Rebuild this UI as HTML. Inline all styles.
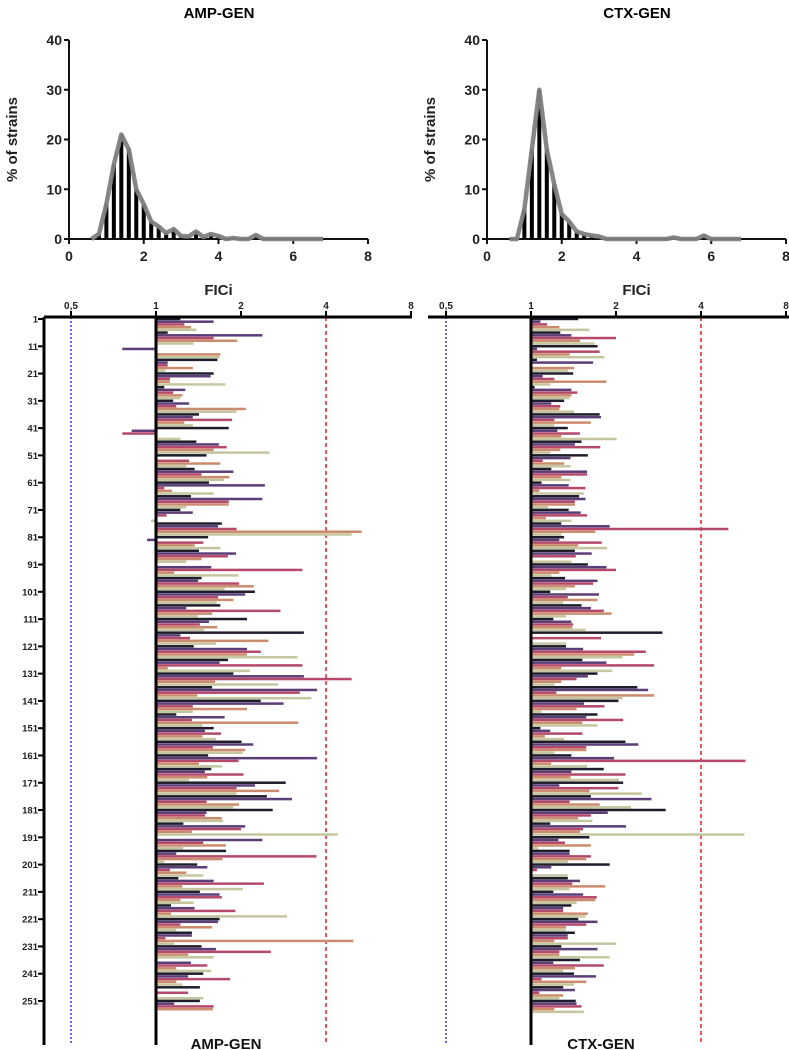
<!DOCTYPE html>
<html><head><meta charset="utf-8">
<style>
html,body{margin:0;padding:0;background:#fff;}
svg{display:block;font-family:"Liberation Sans",Arial,sans-serif;}
</style></head>
<body>
<svg id="chart" width="789" height="1050" viewBox="0 0 789 1050" xmlns="http://www.w3.org/2000/svg"></svg>
<script>
// ---- Histogram data ----
const histBins = [0.6,0.8,1.0,1.2,1.4,1.6,1.8,2.0,2.2,2.4,2.6,2.8,3.0,3.2,3.4,3.6,3.8,4.0,4.2,4.4,4.6,4.8,5.0,5.2,5.4,5.6,5.8,6.0,6.2,6.4,6.6,6.8];
const ampHist = [0,1,7,15,21,18,10,7,3.5,2.5,1.2,2,0.6,0.5,1.5,0.4,1,0.6,0,0.2,0,0,0.8,0,0,0,0,0,0,0,0,0];
const ctxHist = [0,0,6,18,30,18,11,5,3.5,1.5,1,0.7,0.5,0,0,0,0,0,0,0,0,0,0.3,0,0,0,0.7,0,0,0,0,0];
const histYTicks = [0,10,20,30,40];
const histXTicks = [0,2,4,6,8];

// ---- Per-strain FICi data ----
const ampValues = [1.22,1.6,1.26,1.33,1.39,1.1,2.38,1.6,1.94,1.36,1.0,0.76,1.0,1.69,1.68,1.65,1.1,1.1,1.35,1.08,
1.6,1.56,1.12,1.12,1.76,1.07,1.27,1.15,1.24,1.22,1.15,1.31,1.18,2.08,1.93,1.42,1.35,1.86,1.26,1.35,
1.81,0.82,0.76,1.0,1.22,1.39,1.67,1.78,1.6,2.52,1.51,1.0,1.31,1.69,1.28,1.37,1.88,1.45,1.82,1.74,
1.54,2.43,1.07,1.14,1.6,1.33,2.38,1.81,1.81,1.28,1.22,1.35,1.09,1.0,0.96,1.71,1.66,1.93,5.35,4.93,
1.53,0.93,1.47,1.37,1.69,1.42,1.92,1.8,1.45,1.28,1.0,1.57,3.3,1.16,1.96,1.45,1.41,1.97,2.22,1.75,
2.24,2.07,1.66,1.88,1.64,1.69,1.28,2.76,1.58,1.41,2.1,1.54,1.43,1.65,1.48,3.34,1.22,1.32,2.5,1.63,
1.36,2.1,2.35,2.1,3.17,1.8,1.68,3.3,1.1,2.15,1.88,3.34,4.93,1.62,2.71,1.58,3.72,3.23,1.4,3.55,
2.35,2.83,1.35,2.1,1.35,1.18,1.75,1.34,3.19,1.46,1.6,1.49,1.7,1.46,1.63,2.01,2.21,1.59,2.07,2.03,
1.53,3.72,1.96,1.42,1.71,1.57,1.49,2.04,1.52,1.31,2.88,2.24,1.93,2.73,1.93,2.47,3.03,1.51,1.97,1.88,
2.59,1.51,1.49,1.71,1.73,1.25,2.07,2.0,1.34,4.4,1.0,2.38,1.47,1.77,1.25,1.77,1.18,3.7,1.72,1.07,
1.4,1.52,1.12,1.28,1.47,1.2,1.6,2.41,1.24,2.03,1.43,1.68,1.71,1.22,1.36,1.13,1.37,1.91,1.13,2.91,
1.68,1.66,1.22,1.58,1.18,1.34,1.34,1.08,5.0,1.16,1.45,1.63,2.55,1.3,1.6,1.0,1.33,1.52,1.18,1.57,
1.47,1.3,1.83,1.18,1.24,1.43,1.0,1.3,1.0,1.47,1.43,1.16,1.6,1.59];
const ctxValues = [1.47,1.08,1.14,1.26,1.61,1.27,1.39,2.0,1.49,1.68,1.72,1.05,1.75,1.37,1.82,1.05,1.66,1.0,1.42,1.35,
1.41,1.1,1.21,1.85,1.17,1.03,1.39,1.46,1.39,1.37,1.31,1.18,1.27,1.26,1.42,1.75,1.77,1.21,1.63,1.21,
1.35,1.24,1.49,1.28,2.01,1.51,1.43,1.76,1.27,1.17,1.59,1.38,1.1,1.31,1.38,1.18,1.58,1.58,1.28,1.38,
1.09,1.36,1.56,1.07,1.54,1.48,1.56,1.43,1.43,1.15,1.36,1.5,1.58,1.13,1.39,1.28,1.9,5.0,1.69,1.28,
1.31,1.26,1.78,1.47,1.86,1.43,1.64,1.44,1.0,1.39,1.59,1.85,2.0,1.26,1.18,1.32,1.72,1.66,1.43,1.33,
1.17,1.74,1.35,1.72,1.3,1.51,1.63,1.81,1.93,1.33,1.2,1.39,1.41,1.4,1.56,2.92,1.0,1.77,1.0,1.33,
1.33,1.53,2.55,2.32,2.11,1.52,1.85,2.73,1.28,1.94,1.72,1.59,1.45,1.28,1.21,2.38,2.6,1.23,2.73,2.11,
2.04,1.54,1.82,1.45,1.09,1.72,1.57,2.12,1.52,1.72,1.08,1.17,1.52,1.12,1.31,2.16,2.4,1.57,1.57,1.21,
1.39,1.97,5.75,1.18,1.58,1.81,1.39,2.16,1.38,2.05,2.12,1.26,2.04,1.61,2.47,1.63,2.67,1.37,1.75,2.26,
3.0,1.87,1.63,1.47,1.65,1.17,2.17,1.53,1.49,5.7,1.61,1.25,1.32,1.63,1.06,1.37,1.37,1.63,1.57,1.35,
1.9,1.18,1.05,1.0,1.35,1.35,1.49,1.4,1.83,1.37,1.2,1.53,1.71,1.69,1.45,1.39,1.3,1.3,1.59,1.56,
1.47,1.72,1.57,1.33,1.33,1.43,1.35,1.35,1.21,2.0,1.28,1.72,1.26,1.26,1.9,1.49,1.2,1.81,1.43,1.3,
1.42,1.7,1.09,1.57,1.42,1.3,1.43,1.07,1.3,1.26,1.44,1.45,1.51,1.21,1.54];
const logTicks = [0.5,1,2,4,8];
const logTickLabels = ["0,5","1","2","4","8"];
const rowTicks = [1,11,21,31,41,51,61,71,81,91,101,111,121,131,141,151,161,171,181,191,201,211,221,231,241,251];

const NS = "http://www.w3.org/2000/svg";
const svg = document.getElementById('chart');
function mk(tag, attrs, parent){
  const e = document.createElementNS(NS, tag);
  for (const k in attrs) e.setAttribute(k, attrs[k]);
  (parent||svg).appendChild(e);
  return e;
}
const palette = ["#1f1d2c","#5b3d78","#b5496a","#cc8b6c","#c5c6a0"];

// ---- Histograms ----
function histogram(x0, title, data, name){
  const g = mk('g', {});
  
  
  const px = v => x0 + v * (299/8);
  const py = v => 239 - v * (199/40);
  const t = mk('text', {x: x0+150, y: 18, 'text-anchor':'middle', 'font-size':15, 'font-weight':'bold'}, g);
  t.textContent = title;
  
  
  const ya = mk('line', {x1:x0, y1:py(40), x2:x0, y2:py(0), stroke:'#111', 'stroke-width':2}, g);
  
  
  const xa = mk('line', {x1:x0, y1:py(0), x2:px(8), y2:py(0), stroke:'#111', 'stroke-width':2}, g);
  
  
  histYTicks.forEach(v => {
    mk('line', {x1:x0-5, x2:x0, y1:py(v), y2:py(v), stroke:'#111', 'stroke-width':2}, g);
    const l = mk('text', {x:x0-7, y:py(v)+5, 'text-anchor':'end', 'font-size':14, 'font-weight':'bold', fill:'#222'}, g);
    l.textContent = v;
    
    
  });
  histXTicks.forEach(v => {
    mk('line', {x1:px(v), x2:px(v), y1:py(0), y2:py(0)+5, stroke:'#111', 'stroke-width':2}, g);
    const l = mk('text', {x:px(v), y:261, 'text-anchor':'middle', 'font-size':14, 'font-weight':'bold', fill:'#222'}, g);
    l.textContent = v;
    
    
  });
  const yl = mk('text', {x:0, y:0, transform:`translate(${x0-52},${py(20)}) rotate(-90)`, 'text-anchor':'middle', 'font-size':15, 'font-weight':'bold', fill:'#222'}, g);
  yl.textContent = '% of strains';
  
  
  const xl = mk('text', {x:px(4), y:295, 'text-anchor':'middle', 'font-size':15, 'font-weight':'bold', fill:'#222'}, g);
  xl.textContent = 'FICi';
  
  
  data.forEach((v,i) => {
    if (v <= 0) return;
    const b = mk('rect', {x:px(histBins[i])-2, y:py(v), width:4, height:py(0)-py(v), fill:'#000'}, g);
    
    
  });
  const pts = data.map((v,i)=>px(histBins[i])+','+py(v)).join(' ');
  const pl = mk('polyline', {points:pts, fill:'none', stroke:'#808080', 'stroke-width':4.5, 'stroke-linejoin':'round', 'stroke-opacity':0.95}, g);
  
  
}
histogram(69, 'AMP-GEN', ampHist, 'amp-gen-histogram');
histogram(487, 'CTX-GEN', ctxHist, 'ctx-gen-histogram');

// ---- Strain bar charts ----
function strainChart(x1, axisLeft, axisRight, hasYAxis, values, title, name){
  const g = mk('g', {});
  
  
  const px = v => x1 + 85 * Math.log2(v);
  const rowY = r => 319 + (r-1) * 2.728;
  const top = 317;
  const bl = mk('line', {x1:px(0.5), x2:px(0.5), y1:top, y2:1045, stroke:'#6a6ad8', 'stroke-width':2, 'stroke-dasharray':'2,2'}, g);
  
  
  const rl = mk('line', {x1:px(4), x2:px(4), y1:top, y2:1045, stroke:'#e02020', 'stroke-width':1.5, 'stroke-dasharray':'4,3'}, g);
  
  
  values.forEach((v,i) => {
    const y = rowY(i+1) - 1.3;
    const xa = px(1), xb = px(v);
    const b = mk('rect', {x:Math.min(xa,xb), y:y, width:Math.max(Math.abs(xb-xa),1), height:2.5, fill:palette[i%5]}, g);
    
    
  });
  const ml = mk('line', {x1:px(1), x2:px(1), y1:top, y2:1045, stroke:'#000', 'stroke-width':3}, g);
  
  
  const ta = mk('line', {x1:axisLeft, x2:axisRight, y1:top, y2:top, stroke:'#000', 'stroke-width':3}, g);
  
  
  logTicks.forEach((v,i) => {
    mk('line', {x1:px(v), x2:px(v), y1:top-6, y2:top, stroke:'#000', 'stroke-width':2}, g);
    const l = mk('text', {x:px(v), y:top-8, 'text-anchor':'middle', 'font-size':10, 'font-weight':'bold', fill:'#222'}, g);
    l.textContent = logTickLabels[i];
    
    
  });
  if (hasYAxis){
    const ya = mk('line', {x1:axisLeft, x2:axisLeft, y1:top, y2:1045, stroke:'#000', 'stroke-width':3}, g);
    
    
    rowTicks.forEach(r => {
      mk('line', {x1:axisLeft-6, x2:axisLeft, y1:rowY(r), y2:rowY(r), stroke:'#000', 'stroke-width':2}, g);
      const l = mk('text', {x:axisLeft-6, y:rowY(r)+3.5, 'text-anchor':'end', 'font-size':9.5, 'font-weight':'bold', fill:'#222'}, g);
      l.textContent = r;
      
      
    });
  }
  const t = mk('text', {x:px(1)+70, y:1049, 'text-anchor':'middle', 'font-size':15, 'font-weight':'bold', fill:'#111'}, g);
  t.textContent = title;
  
  
}
strainChart(156, 44, 412, true, ampValues, 'AMP-GEN', 'amp-gen-strain-chart');
strainChart(531, 428, 789, false, ctxValues, 'CTX-GEN', 'ctx-gen-strain-chart');
</script>
</body></html>
